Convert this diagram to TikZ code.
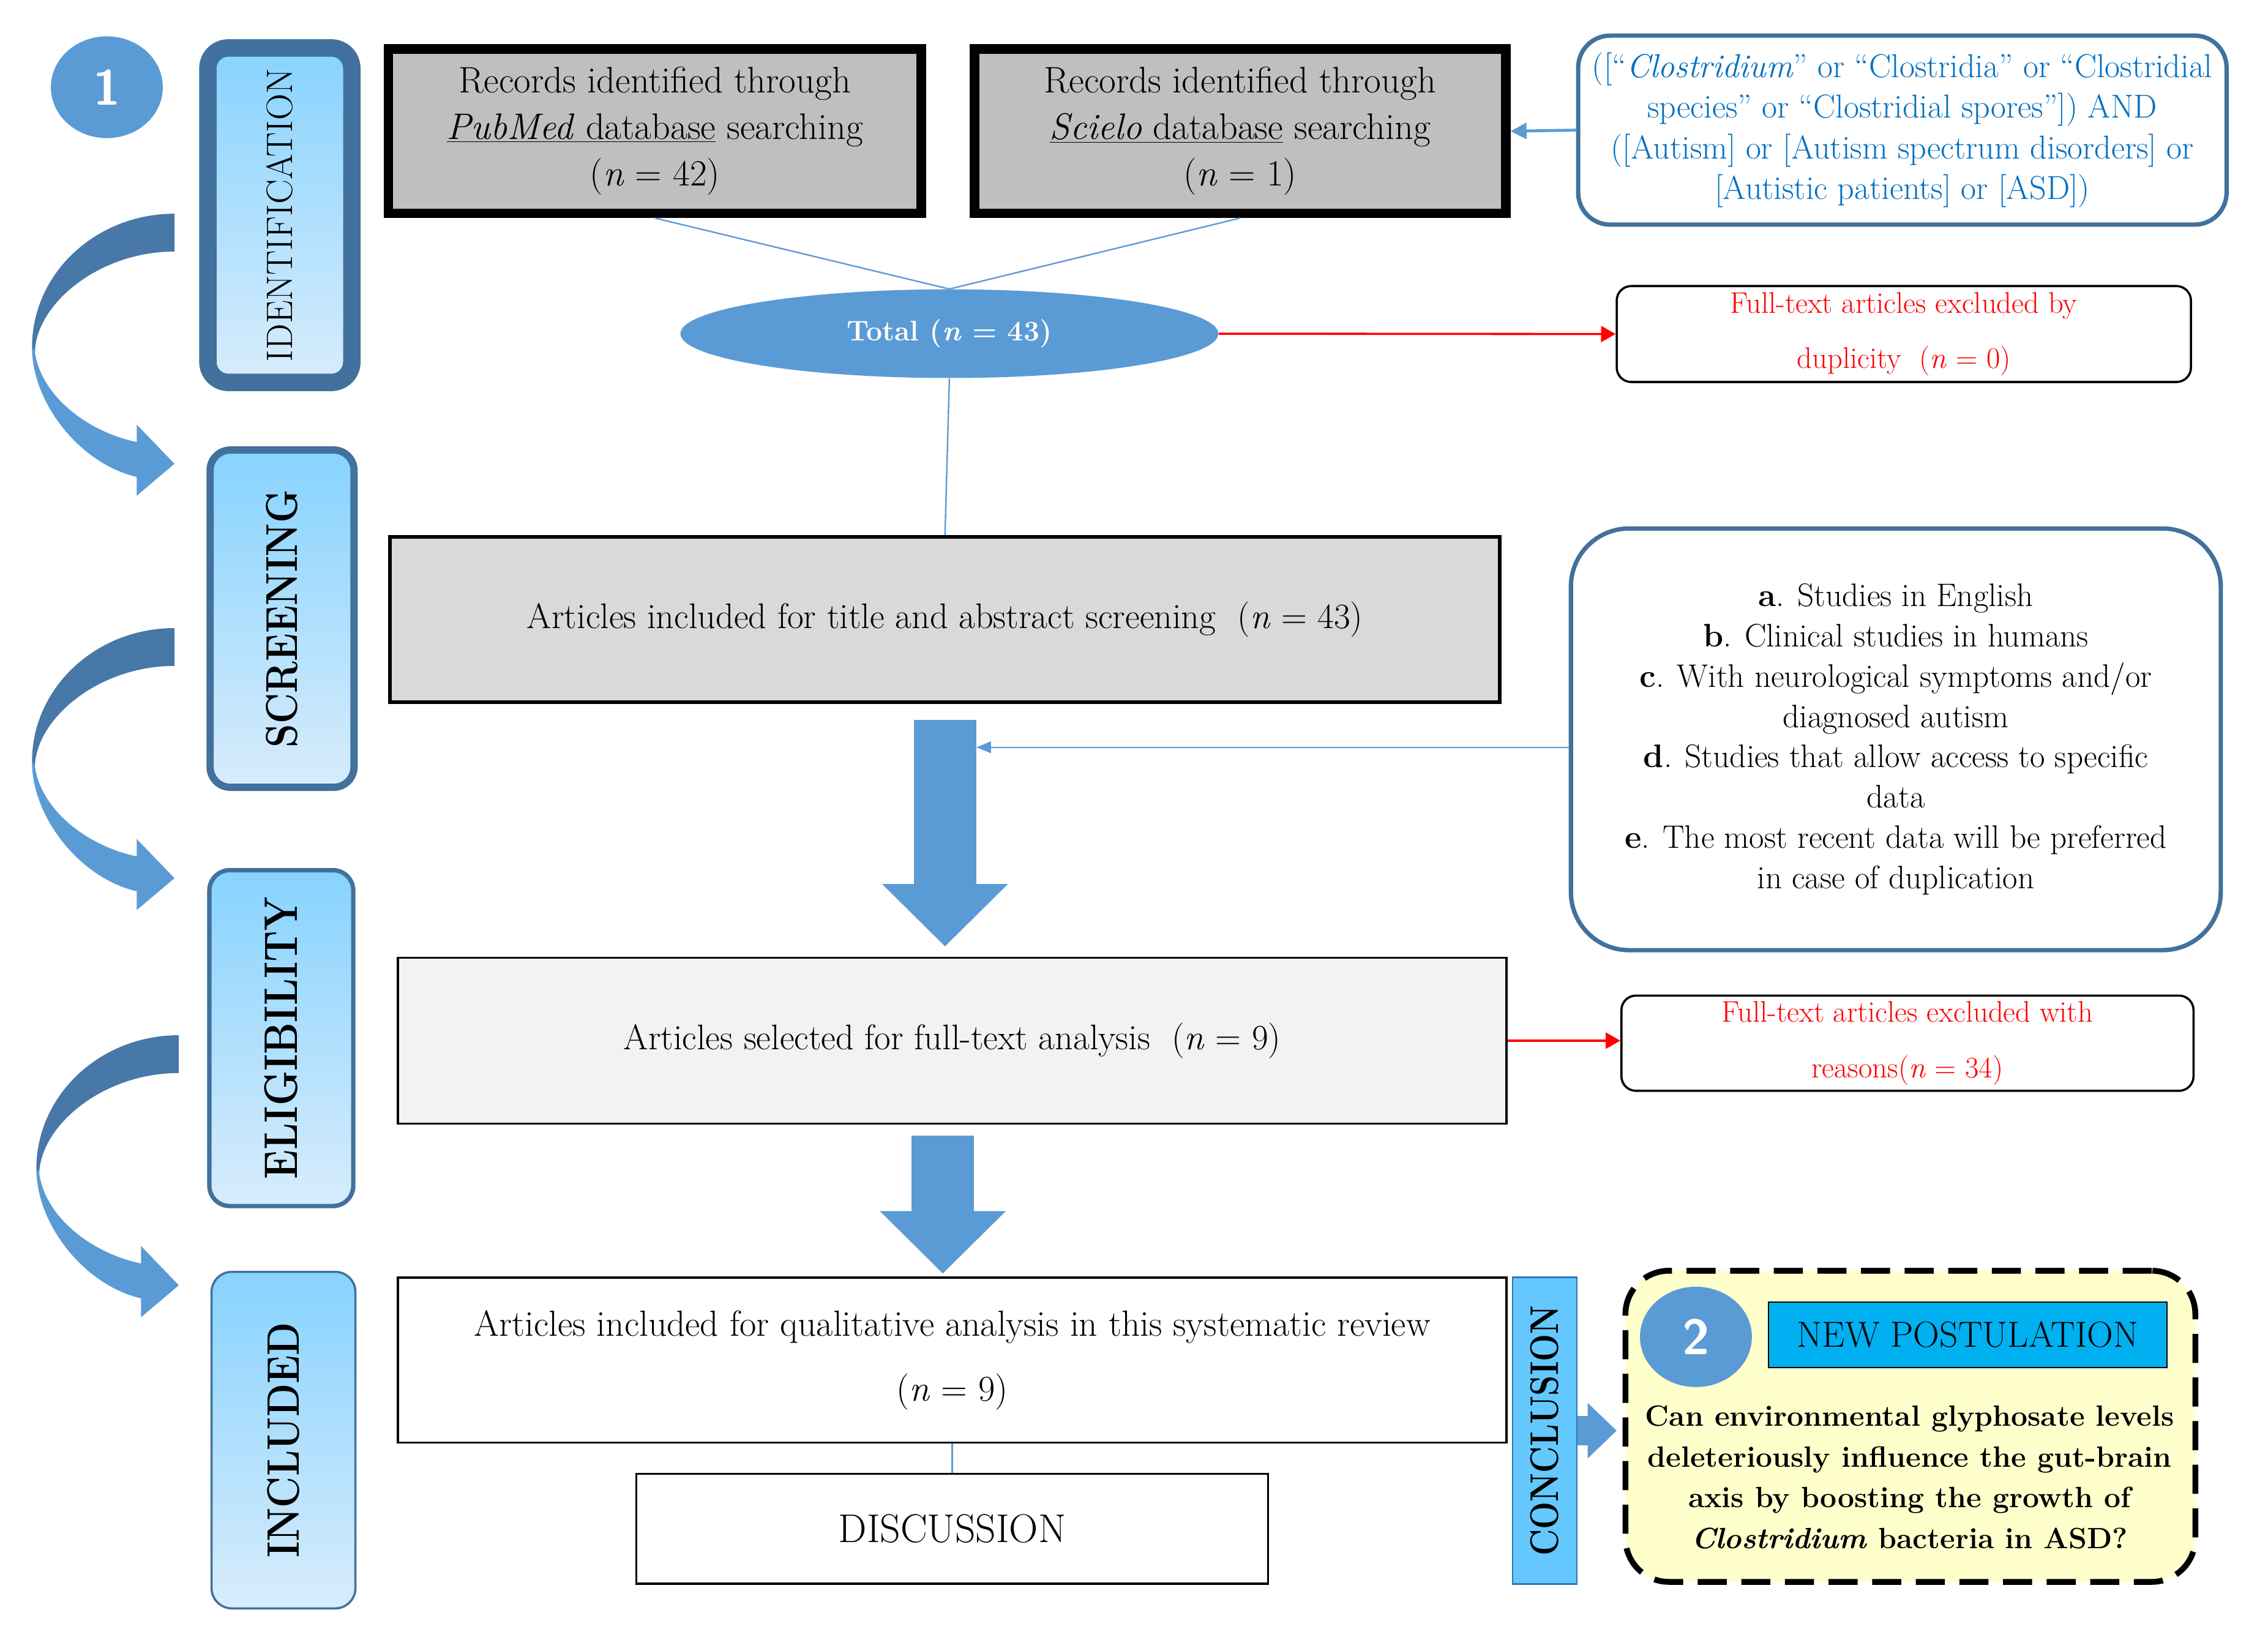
\documentclass[tikz,border=0pt]{standalone}
\usepackage{fontspec}
\usetikzlibrary{shapes.geometric, arrows.meta}

\definecolor{numblue}{RGB}{91,155,213}
\definecolor{stageline}{RGB}{65,113,156}
\definecolor{stagetop}{RGB}{135,211,254}
\definecolor{stagebot}{RGB}{216,236,252}
\definecolor{arrowdark}{RGB}{71,120,168}
\definecolor{recgray}{RGB}{191,191,191}
\definecolor{screengray}{RGB}{217,217,217}
\definecolor{selgray}{RGB}{242,242,242}
\definecolor{querytext}{RGB}{0,112,192}
\definecolor{conclblue}{RGB}{100,200,255}
\definecolor{conclline}{RGB}{46,117,182}
\definecolor{postyellow}{RGB}{255,255,204}
\definecolor{postblue}{RGB}{0,176,240}

\newcommand{\nn}{\textit{n}}
\newcommand{\stagelabel}[1]{\rotatebox{90}{\scalebox{1}[1.18]{\bfseries #1}}}

\tikzset{
    base/.style={text centered, align=center, font=\fontsize{24.5}{32}\selectfont},
    stage/.style={rectangle, rounded corners=14pt, draw=stageline, top color=stagetop, bottom color=stagebot, minimum width=99pt, minimum height=231pt, inner sep=0pt, font=\fontsize{26}{26}\selectfont},
    numcirc/.style={ellipse, fill=numblue, text=white, minimum width=77pt, minimum height=70pt, inner sep=0pt, font=\sffamily\bfseries\fontsize{34}{34}\selectfont},
    record/.style={base, rectangle, draw=black, line width=6.5pt, fill=recgray, minimum width=366.5pt, minimum height=113pt, font=\fontsize{25.4}{32}\selectfont},
    process/.style={base, rectangle, draw=black, line width=1.5pt, minimum width=762.5pt, minimum height=114pt},
    query/.style={base, rectangle, rounded corners=22pt, draw=stageline, line width=3pt, inner sep=3pt, text=querytext, font=\fontsize{22.8}{28}\selectfont},
    exclude/.style={base, rectangle, rounded corners=10pt, draw=black, line width=1.5pt, minimum width=395pt, minimum height=66pt, text=red, font=\fontsize{20.5}{38}\selectfont},
    link/.style={draw=numblue, line width=1pt},
    redarrow/.style={draw=red, line width=1.5pt, -{Triangle[length=10pt,width=11pt]}},
    bluearrow/.style={draw=numblue, line width=1pt, -{Triangle[length=10pt,width=8pt]}},
    bigarrow/.style={draw=numblue, line width=43pt, -{Triangle[length=43pt,width=84pt]}},
    curvarrow/.pic={
        \fill[numblue] (-98,92) .. controls (-98,130) and (-65,172) .. (-26,181) -- (-26,194) -- (0,172) -- (-26,145) -- (-26,157)
            .. controls (-60,150) and (-92,125) .. (-96,95) -- cycle;
        \fill[arrowdark] (0,0) .. controls (-54,0) and (-98,41) .. (-98,92) -- (-96,95)
            .. controls (-95,62) and (-52,26) .. (0,26) -- cycle;
    }
}

\begin{document}
\begin{tikzpicture}[x=1pt, y=-1pt]
    \useasboundingbox (0,0) rectangle (1560,1120.4);

    % Stages on the left
    \node (num1) [numcirc] at (73.5,60) {1};
    \node (idstage) [stage, line width=12pt, minimum height=230pt] at (192.5,148) {\rotatebox{90}{\fontsize{25.3}{25.3}\selectfont\scalebox{1}[1.0]{IDENTIFICATION}}};
    \node (scrstage) [stage, line width=5pt, minimum height=232pt] at (194,425.5) {\stagelabel{SCREENING}};
    \node (eligstage) [stage, line width=3pt, font=\fontsize{27.4}{27.4}\selectfont] at (193.5,714) {\stagelabel{ELIGIBILITY}};
    \node (inclstage) [stage, line width=1.5pt, minimum height=231.5pt, font=\fontsize{26.5}{26.5}\selectfont] at (195,990.5) {\stagelabel{INCLUDED}};

    \pic at (120,147) {curvarrow};
    \pic at (120,432) {curvarrow};
    \pic at (123,712) {curvarrow};

    % Identification
    \node (pubmed) [record] at (450.5,90.25) {Records identified through\\ \underline{\textit{PubMed} database} searching\\ (\nn{} = 42)};
    \node (scielo) [record, minimum width=365.5pt] at (853,90.25) {Records identified through\\ \underline{\textit{Scielo} database} searching\\ (\nn{} = 1)};
    \node (query) [query, minimum width=446pt, minimum height=130pt] at (1308.5,89.5) {([``\textit{Clostridium}'' or ``Clostridia'' or ``Clostridial\\ species'' or ``Clostridial spores'']) AND\\ ([Autism] or [Autism spectrum disorders] or\\ {[}Autistic patients] or [ASD])};
    \node (total) [ellipse, fill=numblue, text=white, minimum width=370pt, minimum height=61pt, font=\bfseries\fontsize{19.5}{19.5}\selectfont] at (653,229.5) {Total (\nn{} = 43)};
    \node (dup) [exclude] at (1309.5,229.75) {Full-text articles excluded by\\ duplicity\ \ (\nn{} = 0)};

    \draw [link] (pubmed.south) -- (total.north);
    \draw [link] (scielo.south) -- (total.north);
    \draw [bluearrow, line width=2pt, -{Triangle[length=11pt,width=11pt]}] (query.west) -- (scielo.east);
    \draw [redarrow] (total.east) -- (dup.west);

    % Screening
    \node (screen) [process, line width=2.5pt, fill=screengray, minimum width=763.5pt, minimum height=113.5pt] at (650,426) {Articles included for title and abstract screening\ \ (\nn{} = 43)};
    \node (criteria) [base, rectangle, rounded corners=40pt, draw=stageline, line width=3pt, minimum width=447pt, minimum height=290pt, font=\fontsize{22.4}{27.7}\selectfont] at (1304,508.5) {\textbf{a}. Studies in English\\ \textbf{b}. Clinical studies in humans\\ \textbf{c}. With neurological symptoms and/or\\ diagnosed autism\\ \textbf{d}. Studies that allow access to specific\\ data\\ \textbf{e}. The most recent data will be preferred\\ in case of duplication};

    \draw [link] (total.south) -- (screen.north);
    \coordinate (shaftR) at (671.6,514);
    \draw [bluearrow] (criteria.west |- shaftR) -- (shaftR);

    % Eligibility
    \node (select) [process, fill=selgray] at (655,715.75) {Articles selected for full-text analysis\ \ (\nn{} = 9)};
    \node (reasons) [exclude, minimum width=393.5pt, minimum height=65.5pt] at (1312,717.5) {Full-text articles excluded with\\ reasons(\nn{} = 34)};

    \draw [bigarrow, shorten <=11pt, shorten >=7pt] (screen.south) -- (screen.south |- select.north);
    \draw [redarrow] (select.east) -- (select.east -| reasons.west);

    % Included
    \node (incl) [process, minimum height=113.5pt, font=\fontsize{25}{32}\selectfont] at (655,935.5) {Articles included for qualitative analysis in this systematic review\\[12.5pt] (\nn{} = 9)};
    \node (disc) [process, minimum width=434.5pt, minimum height=75.5pt, font=\fontsize{27.6}{27.6}\selectfont] at (655,1051.5) {DISCUSSION};
    \node (concl) [rectangle, draw=conclline, line width=1pt, fill=conclblue, minimum width=44pt, minimum height=211pt, inner sep=0pt, font=\fontsize{22.5}{22.5}\selectfont] at (1062.5,984) {\rotatebox{90}{\scalebox{1}[1.22]{\bfseries CONCLUSION}}};

    \coordinate (a2top) at ([xshift=-6.5pt]select.south);
    \draw [bigarrow, shorten <=7.5pt, shorten >=2pt] (a2top) -- (a2top |- incl.north);
    \draw [link] (incl.south) -- (disc.north);

    % New postulation
    \node (postul) [rectangle, rounded corners=30pt, draw=black, line width=4pt, dash pattern=on 20pt off 10pt, fill=postyellow, minimum width=392pt, minimum height=214pt] at (1314,981) {};
    \node (num2) [numcirc, minimum height=69pt] at (1166.5,919.5) {2};
    \node (newpost) [rectangle, draw=black, line width=1pt, fill=postblue, minimum width=274pt, minimum height=45pt, inner sep=2pt, font=\fontsize{25}{25}\selectfont] at (1353.5,918) {NEW POSTULATION};
    \node (question) [align=center, font=\bfseries\fontsize{20.2}{28}\selectfont] at (1313.5,1016) {Can environmental glyphosate levels\\ deleteriously influence the gut-brain\\ axis by boosting the growth of\\ \textit{Clostridium} bacteria in ASD?};

    \draw [draw=numblue, line width=20pt, -{Triangle[length=20pt,width=37pt]}, shorten >=4pt] (concl.east) -- (concl.east -| postul.west);
\end{tikzpicture}
\end{document}
